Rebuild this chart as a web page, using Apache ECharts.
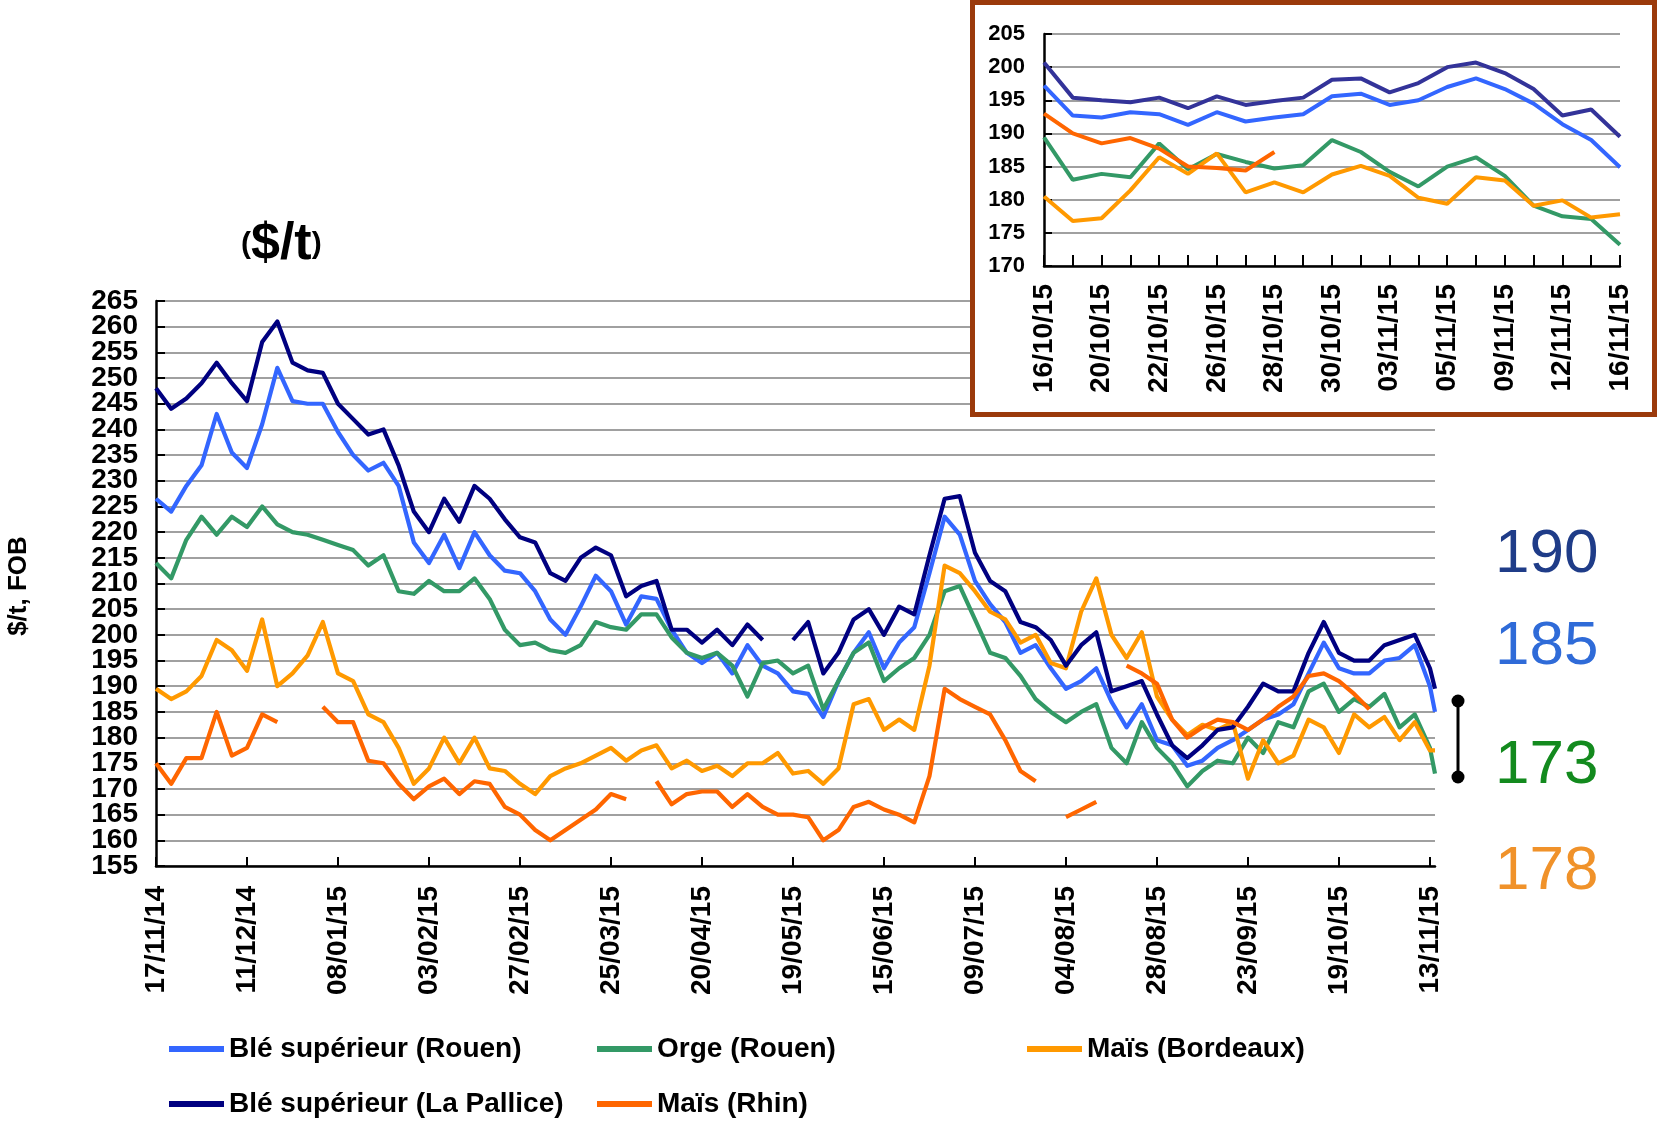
<!DOCTYPE html>
<html>
<head>
<meta charset="utf-8">
<title>Prix FOB</title>
<script src="https://cdn.jsdelivr.net/npm/echarts@6/dist/echarts.min.js"></script>
<style>
  html, body { margin: 0; padding: 0; background: #fff; }
  #chart { width: 1657px; height: 1123px; }
</style>
</head>
<body>
<div id="chart"></div>
<script>
// grand graphique : un point tous les 3 jours ouvrés (index depuis le 17/11/14)
var days = [0, 3, 6, 9, 12, 15, 18, 21, 24, 27, 30, 33, 36, 39, 42, 45, 48, 51,
  54, 57, 60, 63, 66, 69, 72, 75, 78, 81, 84, 87, 90, 93, 96, 99, 102, 105,
  108, 111, 114, 117, 120, 123, 126, 129, 132, 135, 138, 141, 144, 147, 150, 153, 156, 159,
  162, 165, 168, 171, 174, 177, 180, 183, 186, 189, 192, 195, 198, 201, 204, 207, 210, 213,
  216, 219, 222, 225, 228, 231, 234, 237, 240, 243, 246, 249, 252, 253];

var tickDays = [0, 18, 36, 54, 72, 90, 108, 126, 144, 162, 180, 198, 216, 234, 252];
var tickLabels = ['17/11/14', '11/12/14', '08/01/15', '03/02/15', '27/02/15', '25/03/15', '20/04/15',
  '19/05/15', '15/06/15', '09/07/15', '04/08/15', '28/08/15', '23/09/15', '19/10/15', '13/11/15'];
var priceLabels = ['155', '160', '165', '170', '175', '180', '185', '190', '195', '200', '205', '210',
  '215', '220', '225', '230', '235', '240', '245', '250', '255', '260', '265'];

var bleRouen = [226.5, 224, 229, 233, 243, 235.5, 232.5, 241, 252, 245.5, 245, 245,
  239.5, 235, 232, 233.5, 229, 218, 214, 219.5, 213, 220, 215.5, 212.5,
  212, 208.5, 203, 200, 205.5, 211.5, 208.5, 202, 207.5, 207, 201, 196.5,
  194.5, 196.5, 192.5, 198, 194, 192.5, 189, 188.5, 184, 191, 196.5, 200.5,
  193.5, 198.5, 201.5, 212, 223, 219.5, 210.5, 206, 202.5, 196.5, 198, 193.5,
  189.5, 191, 193.5, 187, 182, 186.5, 179.5, 178.5, 174.5, 175.5, 178, 179.5,
  181.5, 183.5, 184.5, 186.5, 192.5, 198.5, 193.5, 192.5, 192.5, 195, 195.5, 198,
  190, 185];

var orge = [214, 211, 218.5, 223, 219.5, 223, 221, 225, 221.5, 220, 219.5, 218.5,
  217.5, 216.5, 213.5, 215.5, 208.5, 208, 210.5, 208.5, 208.5, 211, 207, 201,
  198, 198.5, 197, 196.5, 198, 202.5, 201.5, 201, 204, 204, 199.5, 196.5,
  195.5, 196.5, 194, 188, 194.5, 195, 192.5, 194, 185.5, 191, 196.5, 198.5,
  191, 193.5, 195.5, 200, 208.5, 209.5, 203, 196.5, 195.5, 192, 187.5, 185,
  183, 185, 186.5, 178, 175, 183, 178, 175, 170.5, 173.5, 175.5, 175,
  180, 177, 183, 182, 189, 190.5, 185, 187.5, 186, 188.5, 182, 184.5,
  178, 173];

var maisBordeaux = [189.5, 187.5, 189, 192, 199, 197, 193, 203, 190, 192.5, 196, 202.5,
  192.5, 191, 184.5, 183, 178, 171, 174, 180, 175, 180, 174, 173.5,
  171, 169, 172.5, 174, 175, 176.5, 178, 175.5, 177.5, 178.5, 174, 175.5,
  173.5, 174.5, 172.5, 175, 175, 177, 173, 173.5, 171, 174, 186.5, 187.5,
  181.5, 183.5, 181.5, 194, 213.5, 212, 208.5, 204.5, 203, 198.5, 200, 194.5,
  193.5, 204.5, 211, 200, 195.5, 200.5, 188, 183.5, 180.5, 182.5, 181.5, 183,
  172, 179.5, 175, 176.5, 183.5, 182, 177, 184.5, 182, 184, 179.5, 183,
  177.5, 177.5];

var blePallice = [248, 244, 246, 249, 253, 249, 245.5, 257, 261, 253, 251.5, 251,
  245, 242, 239, 240, 233, 224, 220, 226.5, 222, 229, 226.5, 222.5,
  219, 218, 212, 210.5, 215, 217, 215.5, 207.5, 209.5, 210.5, 201, 201,
  198.5, 201, 198, 202, 199, null, 199, 202.5, 192.5, 196.5, 203, 205,
  200, 205.5, 204, 215.5, 226.5, 227, 216, 210.5, 208.5, 202.5, 201.5, 199,
  194, 198, 200.5, 189, 190, 191, 184.5, 178.5, 176, 178.5, 181.5, 182,
  186, 190.5, 189, 189, 196.5, 202.5, 196.5, 195, 195, 198, 199, 200,
  193.5, 189.5];

var maisRhin = [175, 171, 176, 176, 185, 176.5, 178, 184.5, 183, null, null, 186,
  183, 183, 175.5, 175, 171, 168, 170.5, 172, 169, 171.5, 171, 166.5,
  165, 162, 160, 162, 164, 166, 169, 168, null, 171.5, 167, 169,
  169.5, 169.5, 166.5, 169, 166.5, 165, 165, 164.5, 160, 162, 166.5, 167.5,
  166, 165, 163.5, 172.5, 189.5, 187.5, 186, 184.5, 179.5, 173.5, 171.5, null,
  164.5, 166, 167.5, null, 194, 192.5, 190.5, 183.5, 180, 182, 183.5, 183,
  181.5, 183.5, 186, 188, 192, 192.5, 191, 188.5, 185.5, null, null, null,
  null, null];

// encart : dernier mois
var lastDays = ['16/10/15', '19/10/15', '20/10/15', '21/10/15', '22/10/15', '23/10/15', '26/10/15',
  '27/10/15', '28/10/15', '29/10/15', '30/10/15', '02/11/15', '03/11/15', '04/11/15', '05/11/15',
  '06/11/15', '09/11/15', '10/11/15', '12/11/15', '13/11/15', '16/11/15'];
var lastPallice = [200.7, 195.4, 195, 194.7, 195.4, 193.8, 195.6, 194.3, 194.9, 195.4, 198.1,
  198.3, 196.2, 197.6, 200, 200.7, 199.1, 196.7, 192.7, 193.6, 189.5];
var lastRouen = [197.2, 192.7, 192.4, 193.2, 192.9, 191.3, 193.2, 191.8, 192.4, 192.9, 195.6,
  196, 194.3, 195, 197, 198.3, 196.7, 194.5, 191.4, 189, 184.9];
var lastOrge = [189.4, 183, 183.9, 183.4, 188.5, 184.6, 186.9, 185.7, 184.7, 185.2, 189,
  187.2, 184.2, 182, 185, 186.4, 183.6, 179.1, 177.5, 177.1, 173.2];
var lastBordeaux = [180.5, 176.8, 177.2, 181.4, 186.4, 183.9, 187, 181.1, 182.6, 181.1, 183.8,
  185.1, 183.6, 180.3, 179.4, 183.4, 182.9, 179.1, 179.9, 177.3, 177.8];
var lastRhin = [193, 190, 188.5, 189.3, 187.7, 185, 184.8, 184.4, 187.2, null, null,
  null, null, null, null, null, null, null, null, null, null];

// derniers prix affichés à droite
var lastPrices = ['190', '185', '173', '178'];

var font = 'Liberation Sans, Arial, sans-serif';
var cBleRouen = '#3366FF', cPallice = '#000080', cOrge = '#339966', cBordeaux = '#FF9900', cRhin = '#FF6600';

function pairs(vals) {
  return days.map(function (d, i) { return [d, vals[i]]; });
}

function mainLine(name, vals, color) {
  return {
    name: name, type: 'line', xAxisIndex: 0, yAxisIndex: 0,
    data: pairs(vals), symbol: 'none', connectNulls: false,
    lineStyle: { width: 4.2, color: color, join: 'round' }, itemStyle: { color: color }, z: 2
  };
}
function insetLine(name, vals, color) {
  return {
    name: name, type: 'line', xAxisIndex: 1, yAxisIndex: 1,
    data: vals, symbol: 'none', connectNulls: false,
    lineStyle: { width: 4, color: color }, itemStyle: { color: color }, z: 7
  };
}

var legendCommon = {
  orient: 'vertical', icon: 'rect', itemWidth: 55, itemHeight: 6, itemGap: 25,
  padding: 0, height: 100, selectedMode: false,
  textStyle: { fontSize: 28, fontWeight: 'bold', color: '#000', fontFamily: font, lineHeight: 30 }
};

var chart = echarts.init(document.getElementById('chart'));
chart.setOption({
  animation: false,
  backgroundColor: '#fff',
  title: {
    text: '{p|(}{b|$/t}{p|)}', left: 236, top: 214,
    textStyle: {
      rich: {
        p: { fontSize: 30, color: '#000', fontFamily: font },
        b: { fontSize: 52, fontWeight: 'bold', color: '#000', fontFamily: font }
      }
    }
  },
  legend: [
    Object.assign({ data: ['Blé supérieur (Rouen)', 'Blé supérieur (La Pallice)'], left: 169, top: 1034 }, legendCommon),
    Object.assign({ data: ['Orge (Rouen)', 'Maïs (Rhin)'], left: 597, top: 1034 }, legendCommon),
    Object.assign({ data: ['Maïs (Bordeaux)'], left: 1027, top: 1034 }, legendCommon)
  ],
  grid: [
    { left: 156, top: 301, width: 1279, height: 565 },
    { left: 1044, top: 34, width: 576, height: 232 }
  ],
  xAxis: [
    {
      type: 'value', gridIndex: 0, min: 0, max: 253, interval: 18,
      axisLine: { show: true, lineStyle: { color: '#000', width: 2.5 } },
      axisTick: { show: true, inside: true, length: 9, customValues: tickDays, lineStyle: { color: '#000', width: 2 } },
      axisLabel: {
        customValues: tickDays, rotate: 90, margin: 20,
        fontSize: 28, fontWeight: 'bold', color: '#000', fontFamily: font,
        formatter: function (v) { var i = tickDays.indexOf(v); return i < 0 ? '' : tickLabels[i]; }
      },
      splitLine: { show: false }
    },
    {
      type: 'category', gridIndex: 1, data: lastDays, boundaryGap: false, z: 6,
      axisLine: { lineStyle: { color: '#000', width: 2.5 } },
      axisTick: { show: true, inside: true, length: 11, interval: 0, alignWithLabel: true, lineStyle: { color: '#000', width: 2 } },
      axisLabel: { interval: 1, rotate: 90, margin: 18, fontSize: 28, fontWeight: 'bold', color: '#000', fontFamily: font },
      splitLine: { show: false }
    }
  ],
  yAxis: [
    {
      type: 'value', gridIndex: 0, min: 155, max: 265, interval: 5,
      axisLine: { show: true, lineStyle: { color: '#000', width: 2.5 } },
      axisTick: { show: true, inside: true, length: 9, lineStyle: { color: '#000', width: 2 } },
      axisLabel: { show: false },
      splitLine: { lineStyle: { color: '#A0A0A0', width: 2 } }
    },
    {
      type: 'value', gridIndex: 1, min: 170, max: 205, interval: 5, z: 6,
      axisLine: { show: true, lineStyle: { color: '#000', width: 2.5 } },
      axisTick: { show: true, inside: true, length: 8, lineStyle: { color: '#000', width: 2 } },
      axisLabel: { margin: 19, fontSize: 22, fontWeight: 'bold', color: '#000', fontFamily: font,
        showMinLabel: true, showMaxLabel: true },
      splitLine: { lineStyle: { color: '#A0A0A0', width: 2 } }
    },
    {
      // étiquettes de prix du grand graphique (toutes affichées, serrées)
      type: 'category', gridIndex: 0, data: priceLabels, boundaryGap: false, position: 'left',
      axisLine: { show: false }, axisTick: { show: false }, splitLine: { show: false },
      axisLabel: { interval: 0, margin: 18, fontSize: 28, fontWeight: 'bold', color: '#000', fontFamily: font }
    }
  ],
  graphic: [
    // cadre de l'encart
    { type: 'rect', z: 5, shape: { x: 972.5, y: 2.5, width: 682, height: 412 },
      style: { fill: '#fff', stroke: '#9B3A0B', lineWidth: 5 } },
    { type: 'text', x: 19, y: 586, rotation: Math.PI / 2, z: 5,
      style: { text: '$/t, FOB', align: 'center', verticalAlign: 'middle', fill: '#000',
        font: 'bold 26px ' + font } },
    // derniers prix
    { type: 'text', left: 1495, top: 524, style: { text: lastPrices[0], fill: '#1F3C88', font: '62px ' + font } },
    { type: 'text', left: 1495, top: 616, style: { text: lastPrices[1], fill: '#2F6BD8', font: '62px ' + font } },
    { type: 'text', left: 1495, top: 735, style: { text: lastPrices[2], fill: '#138A1E', font: '62px ' + font } },
    { type: 'text', left: 1495, top: 841, style: { text: lastPrices[3], fill: '#F0922A', font: '62px ' + font } },
    { type: 'line', shape: { x1: 1458, y1: 701, x2: 1458, y2: 777 }, style: { stroke: '#000', lineWidth: 3 } },
    { type: 'circle', shape: { cx: 1458, cy: 701, r: 6.5 }, style: { fill: '#000' } },
    { type: 'circle', shape: { cx: 1458, cy: 777, r: 6.5 }, style: { fill: '#000' } }
  ],
  series: [
    mainLine('Blé supérieur (Rouen)', bleRouen, cBleRouen),
    mainLine('Orge (Rouen)', orge, cOrge),
    mainLine('Maïs (Bordeaux)', maisBordeaux, cBordeaux),
    mainLine('Blé supérieur (La Pallice)', blePallice, cPallice),
    mainLine('Maïs (Rhin)', maisRhin, cRhin),
    insetLine('Blé supérieur (Rouen)', lastRouen, cBleRouen),
    insetLine('Orge (Rouen)', lastOrge, cOrge),
    insetLine('Maïs (Bordeaux)', lastBordeaux, cBordeaux),
    insetLine('Blé supérieur (La Pallice)', lastPallice, '#333399'),
    insetLine('Maïs (Rhin)', lastRhin, cRhin)
  ]
});
</script>
</body>
</html>
